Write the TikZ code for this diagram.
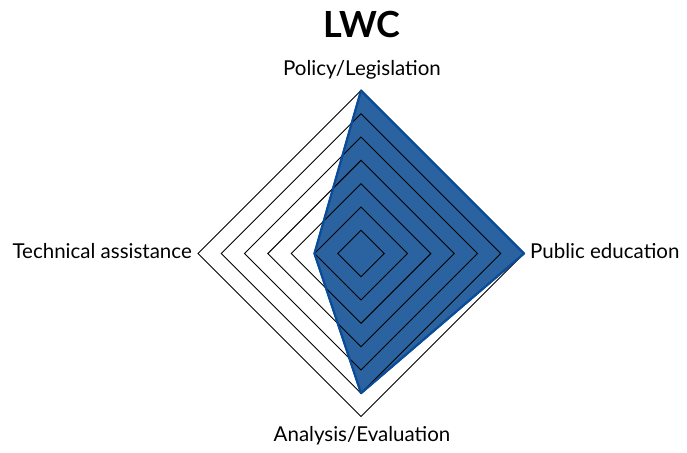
\documentclass[tikz,border=0pt]{standalone}
\usepackage{fontspec}
\setmainfont{Lato}
\definecolor{areafill}{HTML}{2A63A0}
\definecolor{arealine}{HTML}{0A4C97}
\begin{document}
\begin{tikzpicture}[x=1pt,y=-1pt,
  ring/.style={draw=black,line width=0.9pt,line join=miter},
  axislabel/.style={font=\fontsize{20.5}{22}\selectfont,inner sep=0pt},
  area/.style={fill=areafill,draw=arealine,line width=2pt,line join=round}]
\useasboundingbox (0,0) rectangle (687,452);
\def\cx{361}\def\cy{253.5}\def\R{163}
% data polygon: top 7, right 7, bottom 6, left 2 (of 7)
\coordinate (pt) at (\cx,\cy-\R);
\coordinate (pr) at (\cx+\R,\cy);
\coordinate (pb) at (\cx,\cy+6*\R/7);
\coordinate (pl) at (\cx-2*\R/7,\cy);
\draw[area] (pt) -- (pr) -- (pb) -- (pl) -- cycle;
\foreach \k in {1,...,7}{
  \draw[ring] (\cx,\cy-\k*\R/7) -- (\cx+\k*\R/7,\cy) -- (\cx,\cy+\k*\R/7) -- (\cx-\k*\R/7,\cy) -- cycle;
}
\draw[arealine,line width=2pt,line join=round] (pt) -- (pr) -- (pb) -- (pl) -- cycle;
\node[font=\fontsize{36}{40}\selectfont\bfseries] (title) at (362,24) {LWC};
\node[axislabel] (top) at (362,70) {Policy/Legislation};
\node[axislabel,anchor=west] (right) at (530,251) {Public education};
\node[axislabel,anchor=east] (left) at (192,251) {Technical assistance};
\node[axislabel] (bottom) at (362,436) {Analysis/Evaluation};
\end{tikzpicture}
\end{document}
